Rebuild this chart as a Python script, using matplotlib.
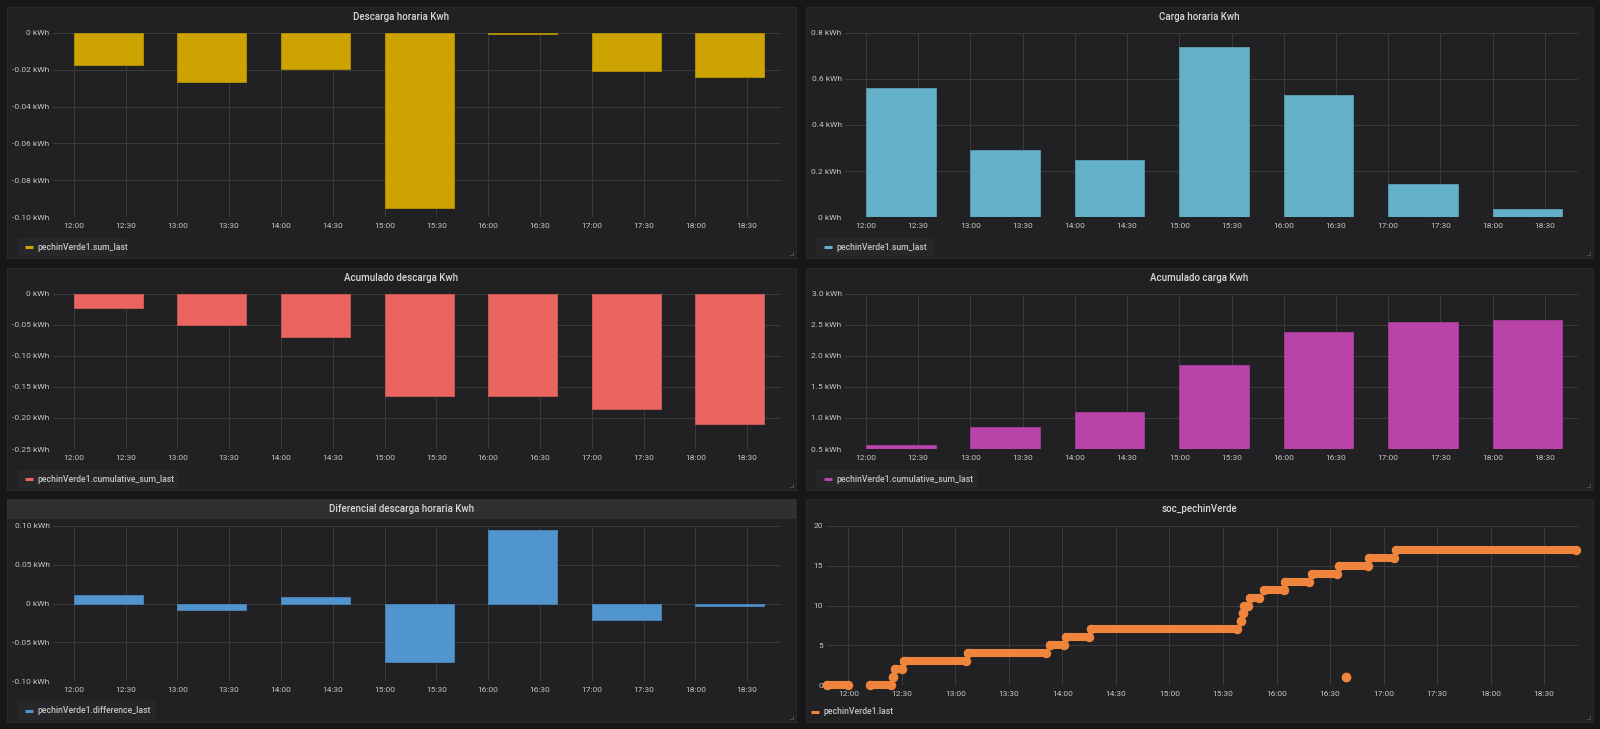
import matplotlib
matplotlib.use("Agg")
import matplotlib.pyplot as plt
import matplotlib.colors as mcolors
from matplotlib.patches import Rectangle
from matplotlib.lines import Line2D
from matplotlib.ticker import FuncFormatter, MultipleLocator

plt.rcParams['font.family'] = ['Roboto', 'DejaVu Sans']

# hourly buckets (bar starts) and the visible time window
hours = ["12:00", "13:00", "14:00", "15:00", "16:00", "17:00", "18:00"]
x_start, x_end = "11:48", "18:49"

descarga_horaria = [-0.0176, -0.0265, -0.0193, -0.0949, -0.0003, -0.0207, -0.0238]
carga_horaria = [0.563, 0.292, 0.247, 0.740, 0.530, 0.145, 0.033]
acum_descarga = [-0.0231, -0.0495, -0.0688, -0.1645, -0.1650, -0.1860, -0.2090]
acum_carga = [0.559, 0.856, 1.098, 1.850, 2.391, 2.542, 2.574]
dif_descarga = [0.0112, -0.0086, 0.0082, -0.0754, 0.0948, -0.0207, -0.0034]

# soc_pechinVerde: runs of constant state of charge (first / last sample)
soc_level = [0, 0, 1, 2, 3, 4, 5, 6, 7, 8, 9, 10, 11, 12, 13, 14, 15, 16, 17, 1]
soc_from = ["11:48", "12:12", "12:25", "12:26", "12:31", "13:07", "13:53", "14:02", "14:16",
            "15:40", "15:41", "15:42", "15:45", "15:53", "16:05", "16:20", "16:35", "16:52",
            "17:07", "16:39"]
soc_to = ["12:00", "12:24", "12:25", "12:30", "13:06", "13:51", "14:01", "14:15", "15:38",
          "15:40", "15:41", "15:44", "15:50", "16:04", "16:18", "16:34", "16:51", "17:06",
          "18:48", "16:39"]

W, H = 1600, 729
BG = "#161719"
PANEL = "#212124"
GRID = "#3a3a3d"
TICK = "#c4c5c7"
TITLE = "#d8d9da"


def hm(s):
    h, m = s.split(":")
    return int(h) + int(m) / 60


def rect(x0, y0, x1, y1):
    return [x0 / W, 1 - y1 / H, (x1 - x0) / W, (y1 - y0) / H]


def fx(x):
    return x / W


def fy(y):
    return 1 - y / H


def hhmm(v, pos):
    t = int(round(v * 60))
    return f"{t // 60:02d}:{t % 60:02d}"


def kwh(dec):
    return lambda v, pos: "0 kWh" if abs(v) < 1e-9 else f"{v:.{dec}f} kWh"


fig = plt.figure(figsize=(W / 100, H / 100), dpi=100, facecolor=BG)


def panel(box, title, header=False):
    x0, y0, x1, y1 = box
    fig.add_artist(Rectangle((fx(x0), fy(y1)), fx(x1 - x0), (y1 - y0) / H,
                             transform=fig.transFigure, facecolor=PANEL,
                             edgecolor="#2a2a2d", lw=0.7, zorder=0))
    if header:
        fig.add_artist(Rectangle((fx(x0), fy(y0 + 20)), fx(x1 - x0), 20 / H,
                                 transform=fig.transFigure, facecolor="#303033",
                                 edgecolor="none", zorder=0))
    fig.text(fx((x0 + x1) / 2), fy(y0 + 10), title, ha="center", va="center",
             fontsize=7, color=TITLE, fontweight="medium")
    # resize corner
    fig.add_artist(Line2D([fx(x1 - 6), fx(x1 - 3), fx(x1 - 3)],
                          [fy(y1 - 3), fy(y1 - 3), fy(y1 - 6)],
                          transform=fig.transFigure, color="#5a5a5d", lw=0.6))


def legend(x0, y0, x1, y1, label, color, box=True):
    if box:
        fig.add_artist(Rectangle((fx(x0), fy(y1)), fx(x1 - x0), (y1 - y0) / H,
                                 transform=fig.transFigure, facecolor="#27272a",
                                 edgecolor="none", zorder=1))
    yc = (y0 + y1) / 2
    fig.add_artist(Line2D([fx(x0 + 8), fx(x0 + 16)], [fy(yc), fy(yc)],
                          transform=fig.transFigure, color=color, lw=2.2,
                          solid_capstyle="butt"))
    fig.text(fx(x0 + 21), fy(yc), label, ha="left", va="center",
             fontsize=6.2, color=TICK, fontweight="medium")


def axes(plot, ylim, ystep, fmt):
    ax = fig.add_axes(rect(*plot))
    ax.set_facecolor("none")
    ax.set_xlim(hm(x_start), hm(x_end))
    ax.set_ylim(*ylim)
    ax.xaxis.set_major_locator(MultipleLocator(0.5))
    ax.xaxis.set_major_formatter(FuncFormatter(hhmm))
    ax.yaxis.set_major_locator(MultipleLocator(ystep))
    ax.yaxis.set_major_formatter(FuncFormatter(fmt))
    ax.grid(True, color=GRID, lw=0.75)
    ax.set_axisbelow(True)
    for s in ax.spines.values():
        s.set_visible(False)
    ax.tick_params(axis="both", length=0, labelsize=6, colors=TICK)
    ax.tick_params(axis="x", pad=4)
    ax.tick_params(axis="y", pad=2.5)
    return ax


def bars(ax, values, color):
    edge = mcolors.to_hex([0.82 * c + 0.18 * b for c, b in
                           zip(mcolors.to_rgb(color), mcolors.to_rgb(PANEL))])
    ax.bar([hm(h) for h in hours], values, width=40 / 60, align="edge",
           color=color, edgecolor=edge, lw=0.7, zorder=2)


YELLOW, LBLUE, RED, PURPLE, BLUE, ORANGE = ("#cca300", "#64b0c8", "#ea6460",
                                            "#ba43a9", "#5195ce", "#ef843c")

# row 1
panel((7, 7, 796, 258), "Descarga horaria Kwh")
ax = axes((53, 33, 780, 217), (-0.10, 0), 0.02, kwh(2))
bars(ax, descarga_horaria, YELLOW)
legend(17, 238, 127, 256, "pechinVerde1.sum_last", YELLOW)

panel((806, 7, 1593, 258), "Carga horaria Kwh")
ax = axes((845, 33, 1578, 217), (0, 0.8), 0.2, kwh(1))
bars(ax, carga_horaria, LBLUE)
legend(816, 238, 934, 256, "pechinVerde1.sum_last", LBLUE)

# row 2
panel((7, 268, 796, 490), "Acumulado descarga Kwh")
ax = axes((53, 294, 780, 449), (-0.25, 0), 0.05, kwh(2))
bars(ax, acum_descarga, RED)
legend(17, 470, 178, 488, "pechinVerde1.cumulative_sum_last", RED)

panel((806, 268, 1593, 490), "Acumulado carga Kwh")
ax = axes((845, 294, 1578, 449), (0.5, 3.0), 0.5, kwh(1))
bars(ax, acum_carga, PURPLE)
legend(816, 470, 977, 488, "pechinVerde1.cumulative_sum_last", PURPLE)

# row 3
panel((7, 499, 796, 722), "Diferencial descarga horaria Kwh", header=True)
ax = axes((53, 526, 780, 681), (-0.10, 0.10), 0.05, kwh(2))
bars(ax, dif_descarga, BLUE)
legend(17, 701, 156, 720, "pechinVerde1.difference_last", BLUE)

panel((806, 499, 1593, 722), "soc_pechinVerde")
ax = axes((827, 526, 1578, 685), (0, 20), 5, lambda v, p: f"{v:g}")
ax.tick_params(axis="y", pad=3)
for lvl, a, b in zip(soc_level, soc_from, soc_to):
    ax.plot([hm(a), hm(b)], [lvl, lvl], color=ORANGE, lw=5.8, marker="o", ms=5.8,
            solid_capstyle="round", clip_on=False, zorder=3)
legend(803, 703, 900, 721, "pechinVerde1.last", ORANGE, box=False)

fig.savefig("out.png", dpi=100, facecolor=BG)
